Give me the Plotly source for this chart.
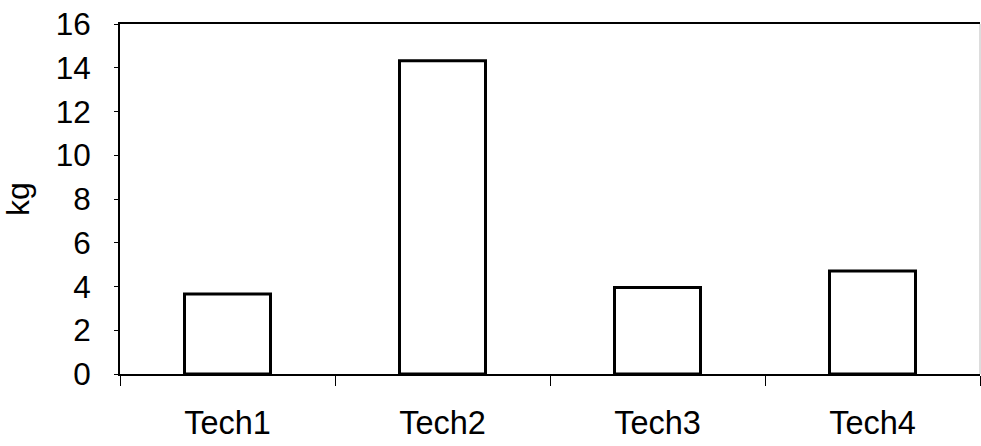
import plotly.graph_objects as go

categories = ["Tech1", "Tech2", "Tech3", "Tech4"]
values = [3.66, 14.32, 3.95, 4.71]
y_ticks = [0, 2, 4, 6, 8, 10, 12, 14, 16]

fig = go.Figure()
fig.add_trace(go.Bar(
    x=categories, y=values,
    marker=dict(color="white", line=dict(color="black", width=3)),
    width=0.4,
))

font = dict(family="Liberation Sans, Arial, sans-serif", size=32, color="black")

fig.update_layout(
    width=981, height=446,
    margin=dict(l=120, r=1, t=24, b=72),
    paper_bgcolor="white", plot_bgcolor="white",
    showlegend=False,
    font=font,
    xaxis=dict(
        showline=True, linecolor="black", linewidth=2, mirror=True,
        ticks="outside", tickson="boundaries", ticklen=10, tickcolor="black", tickwidth=1,
        showgrid=False, ticklabelstandoff=19, tickfont=dict(size=32.5),
        range=[-0.5, 3.5],
    ),
    yaxis=dict(
        range=[0, 16], tickvals=y_ticks,
        showline=True, linecolor="black", linewidth=2, mirror=False,
        ticks="outside", ticklen=4, tickcolor="black", tickwidth=1,
        showgrid=False, zeroline=False, ticklabelstandoff=17, tickfont=dict(size=31.5),
        title=dict(text="kg", font=font, standoff=20),
    ),
    shapes=[dict(type="line", xref="paper", yref="paper", x0=1, x1=1, y0=0, y1=1,
                 line=dict(color="#bbbbbb", width=1))],
)

fig.write_html("out.html", config={"displayModeBar": False})
with open("out.html", encoding="utf-8") as f:
    html = f.read()
html = html.replace("<head>", "<head><style>html,body{margin:0;padding:0;overflow:hidden}</style>", 1)
with open("out.html", "w", encoding="utf-8") as f:
    f.write(html)
